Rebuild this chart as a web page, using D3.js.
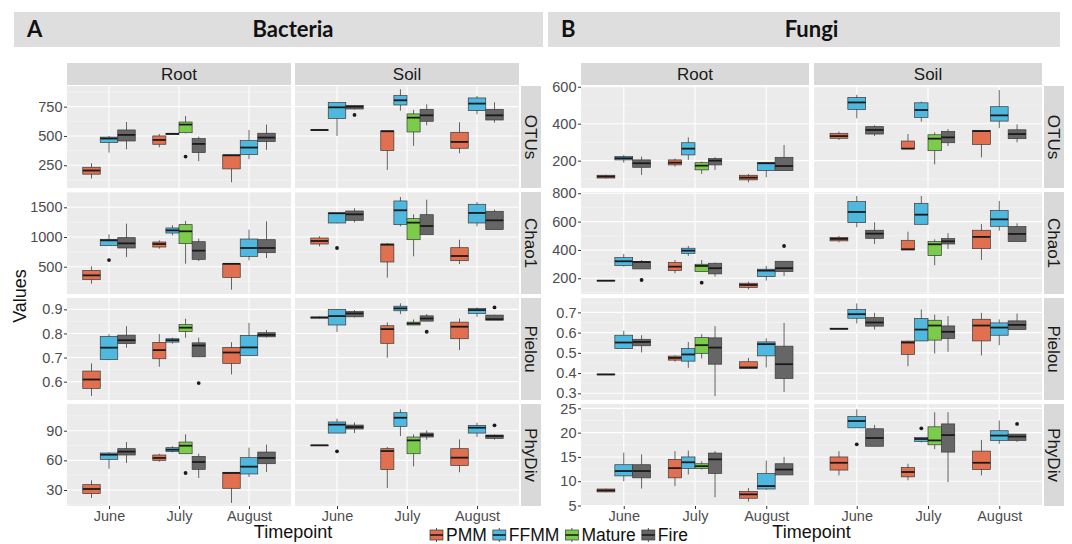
<!DOCTYPE html>
<html lang="en">
<head>
<meta charset="utf-8">
<title>Bacteria and Fungi diversity boxplots</title>
<script src="https://d3js.org/d3.v7.min.js"></script>
<style>
  body { margin: 0; background: #fff; }
  svg { display: block; font-family: "Liberation Sans", Arial, sans-serif; }
</style>
</head>
<body>
<svg id="chart" width="1072" height="544"></svg>
<script>
var timepoints = ["June", "July", "August"];
var groups = ["PMM", "FFMM", "Mature", "Fire"];
var compartments = ["Root", "Soil"];
var metrics = ["OTUs", "Chao1", "Pielou", "PhyDiv"];
var groupColors = ["#e0704f", "#4fb8df", "#7ccc4c", "#666666"];

// [compartment, timepoint, group, lower whisker, q1, median, q3, upper whisker, outliers]
var bacOTUs = [
  ["Root","June","PMM",137,174,205,233,267],
  ["Root","June","FFMM",358,443,478,490,500],
  ["Root","June","Fire",386,457,509,551,619],
  ["Root","July","PMM",403,429,466,500,517],
  ["Root","July","FFMM",510,514,518,522,526],
  ["Root","July","Mature",522,528,597,619,670,[324]],
  ["Root","July","Fire",284,358,432,477,494],
  ["Root","August","PMM",105,219,335,338,340],
  ["Root","August","FFMM",301,341,401,460,551],
  ["Root","August","Fire",381,452,486,523,597],
  ["Soil","June","PMM",549,550,551,552,553],
  ["Soil","June","FFMM",500,648,744,784,784],
  ["Soil","June","Fire",725,730,750,759,762,[679]],
  ["Soil","July","PMM",210,375,540,543,545],
  ["Soil","July","FFMM",716,764,804,844,898],
  ["Soil","July","Mature",415,534,656,688,722],
  ["Soil","July","Fire",591,625,676,727,770],
  ["Soil","August","PMM",352,395,449,531,617],
  ["Soil","August","FFMM",685,716,776,824,841],
  ["Soil","August","Fire",614,636,676,727,787]
];
var bacChao1 = [
  ["Root","June","PMM",213,281,354,438,505],
  ["Root","June","FFMM",850,854,944,961,1045,[612]],
  ["Root","June","Fire",663,815,893,989,1225],
  ["Root","July","PMM",803,831,882,916,944],
  ["Root","July","FFMM",1028,1067,1112,1152,1197],
  ["Root","July","Mature",550,888,1096,1208,1270],
  ["Root","July","Fire",595,623,770,921,972],
  ["Root","August","PMM",112,320,548,550,552],
  ["Root","August","FFMM",607,674,815,966,1124],
  ["Root","August","Fire",646,736,815,955,1264],
  ["Soil","June","PMM",843,882,933,983,1011],
  ["Soil","June","FFMM",1230,1236,1400,1405,1410,[815]],
  ["Soil","June","Fire",1247,1281,1382,1438,1483],
  ["Soil","July","PMM",314,579,871,882,899],
  ["Soil","July","FFMM",1180,1208,1450,1607,1674],
  ["Soil","July","Mature",674,955,1242,1309,1382],
  ["Soil","July","Fire",1039,1039,1185,1376,1629],
  ["Soil","August","PMM",545,601,680,820,955],
  ["Soil","August","FFMM",1180,1236,1405,1551,1590],
  ["Soil","August","Fire",1124,1124,1281,1433,1461]
];
var bacPielou = [
  ["Root","June","PMM",0.541,0.572,0.609,0.644,0.676],
  ["Root","June","FFMM",0.689,0.692,0.741,0.788,0.797],
  ["Root","June","Fire",0.741,0.758,0.772,0.793,0.830],
  ["Root","July","PMM",0.662,0.695,0.731,0.763,0.797],
  ["Root","July","FFMM",0.758,0.764,0.772,0.778,0.782],
  ["Root","July","Mature",0.782,0.808,0.824,0.837,0.861],
  ["Root","July","Fire",0.703,0.703,0.750,0.761,0.782,[0.594]],
  ["Root","August","PMM",0.630,0.676,0.721,0.742,0.764],
  ["Root","August","FFMM",0.709,0.709,0.742,0.792,0.844],
  ["Root","August","Fire",0.783,0.786,0.794,0.803,0.814],
  ["Soil","June","PMM",0.862,0.864,0.866,0.868,0.870],
  ["Soil","June","FFMM",0.806,0.835,0.872,0.900,0.900],
  ["Soil","June","Fire",0.866,0.869,0.883,0.891,0.897],
  ["Soil","July","PMM",0.699,0.759,0.818,0.832,0.846],
  ["Soil","July","FFMM",0.880,0.894,0.904,0.913,0.925],
  ["Soil","July","Mature",0.835,0.835,0.841,0.847,0.858],
  ["Soil","July","Fire",0.851,0.851,0.862,0.873,0.880,[0.807]],
  ["Soil","August","PMM",0.731,0.778,0.828,0.847,0.862],
  ["Soil","August","FFMM",0.869,0.883,0.897,0.904,0.908],
  ["Soil","August","Fire",0.855,0.855,0.859,0.876,0.878,[0.908]]
];
var bacPhyDiv = [
  ["Root","June","PMM",21.9,26.3,31.0,35.4,39.8],
  ["Root","June","FFMM",51.6,61.0,65.7,67.4,68.4],
  ["Root","June","Fire",57.3,65.4,68.8,71.8,78.5],
  ["Root","July","PMM",58.7,60.0,62.4,65.4,66.7],
  ["Root","July","FFMM",68.1,68.8,70.8,72.8,74.2],
  ["Root","July","Mature",66.7,66.7,74.8,78.5,86.3,[47.2]],
  ["Root","July","Fire",42.1,50.9,58.3,64.0,66.7],
  ["Root","August","PMM",16.9,31.7,47.2,47.9,48.2],
  ["Root","August","FFMM",43.2,46.2,53.6,62.7,72.8],
  ["Root","August","Fire",48.2,56.6,62.4,68.4,75.8],
  ["Soil","June","PMM",75.0,75.1,75.2,75.3,75.4],
  ["Soil","June","FFMM",87.6,87.6,96.1,98.8,102.1,[69.1]],
  ["Soil","June","Fire",87.6,91.7,93.7,95.7,98.4],
  ["Soil","July","PMM",32.0,50.6,69.4,71.8,73.5],
  ["Soil","July","FFMM",84.6,94.4,103.1,108.2,111.6],
  ["Soil","July","Mature",53.9,66.7,80.2,83.6,86.3],
  ["Soil","July","Fire",80.9,83.6,85.6,87.6,90.3],
  ["Soil","August","PMM",47.9,54.9,62.7,71.8,81.2],
  ["Soil","August","FFMM",83.6,87.6,93.0,95.4,98.1],
  ["Soil","August","Fire",80.9,82.2,84.6,85.6,86.0,[95.4]]
];
var funOTUs = [
  ["Root","June","PMM",103,106,114,121,124],
  ["Root","June","FFMM",189,204,213,222,231],
  ["Root","June","Fire",123,164,186,204,222],
  ["Root","July","PMM",168,177,189,204,211],
  ["Root","July","FFMM",204,231,265,297,326],
  ["Root","July","Mature",128,150,173,189,195],
  ["Root","July","Fire",150,177,200,211,218],
  ["Root","August","PMM",83,96,108,121,128],
  ["Root","August","FFMM",110,146,186,189,190],
  ["Root","August","Fire",146,146,171,218,285],
  ["Soil","June","PMM",312,321,333,348,357],
  ["Soil","June","FFMM",429,477,515,542,556],
  ["Soil","June","Fire",333,344,366,384,391],
  ["Soil","July","PMM",265,265,265,306,344],
  ["Soil","July","FFMM",411,434,474,513,520],
  ["Soil","July","Mature",180,254,319,340,353],
  ["Soil","July","Fire",279,297,326,358,371],
  ["Soil","August","PMM",218,288,360,364,366],
  ["Soil","August","FFMM",376,414,445,492,582],
  ["Soil","August","Fire",299,319,344,367,396]
];
var funChao1 = [
  ["Root","June","PMM",181,182,183,185,186],
  ["Root","June","FFMM",282,289,320,346,372],
  ["Root","June","Fire",266,266,315,318,329,[188]],
  ["Root","July","PMM",235,254,282,311,329],
  ["Root","July","FFMM",358,376,395,412,428],
  ["Root","July","Mature",247,247,287,299,329,[169]],
  ["Root","July","Fire",212,231,271,306,311],
  ["Root","August","PMM",122,136,153,165,176],
  ["Root","August","FFMM",184,212,254,264,287],
  ["Root","August","Fire",216,247,271,320,320,[428]],
  ["Soil","June","PMM",454,464,478,489,499],
  ["Soil","June","FFMM",560,593,668,741,781],
  ["Soil","June","Fire",442,482,515,539,595],
  ["Soil","July","PMM",400,400,405,468,529],
  ["Soil","July","FFMM",581,581,649,729,781],
  ["Soil","July","Mature",292,360,440,459,475],
  ["Soil","July","Fire",407,442,461,480,518],
  ["Soil","August","PMM",329,409,492,539,584],
  ["Soil","August","FFMM",536,567,616,678,746],
  ["Soil","August","Fire",459,459,513,565,588]
];
var funPielou = [
  ["Root","June","PMM",0.391,0.392,0.393,0.395,0.396],
  ["Root","June","FFMM",0.521,0.521,0.551,0.587,0.609],
  ["Root","June","Fire",0.502,0.535,0.554,0.567,0.587],
  ["Root","July","PMM",0.456,0.464,0.475,0.484,0.488],
  ["Root","July","FFMM",0.426,0.459,0.492,0.521,0.554],
  ["Root","July","Mature",0.472,0.497,0.538,0.576,0.592],
  ["Root","July","Fire",0.286,0.444,0.526,0.574,0.632],
  ["Root","August","PMM",0.423,0.423,0.428,0.456,0.475],
  ["Root","August","FFMM",0.428,0.485,0.543,0.554,0.572],
  ["Root","August","Fire",0.307,0.373,0.444,0.533,0.648],
  ["Soil","June","PMM",0.618,0.618,0.619,0.620,0.620],
  ["Soil","June","FFMM",0.645,0.671,0.691,0.714,0.744],
  ["Soil","June","Fire",0.615,0.632,0.650,0.674,0.698],
  ["Soil","July","PMM",0.434,0.492,0.551,0.558,0.560],
  ["Soil","July","FFMM",0.559,0.559,0.615,0.670,0.714],
  ["Soil","July","Mature",0.497,0.563,0.635,0.661,0.689],
  ["Soil","July","Fire",0.505,0.571,0.604,0.633,0.681],
  ["Soil","August","PMM",0.487,0.559,0.635,0.666,0.698],
  ["Soil","August","FFMM",0.538,0.587,0.625,0.648,0.665],
  ["Soil","August","Fire",0.615,0.615,0.638,0.658,0.694]
];
var funPhyDiv = [
  ["Root","June","PMM",7.7,7.8,8.1,8.4,8.5],
  ["Root","June","FFMM",10.0,11.1,12.1,13.4,15.9],
  ["Root","June","Fire",8.5,10.7,12.1,13.4,15.5],
  ["Root","July","PMM",9.0,10.7,12.7,14.5,16.2],
  ["Root","July","FFMM",11.4,12.6,13.9,15.0,16.3],
  ["Root","July","Mature",12.4,12.6,13.1,13.6,14.1],
  ["Root","July","Fire",6.7,11.6,14.5,15.8,16.2],
  ["Root","August","PMM",5.8,6.5,7.3,7.9,8.6],
  ["Root","August","FFMM",8.2,8.4,9.0,11.6,14.25],
  ["Root","August","Fire",11.3,11.3,12.4,13.6,15.0],
  ["Soil","June","PMM",11.2,12.3,13.8,15.0,16.2],
  ["Soil","June","FFMM",21.0,21.0,22.4,23.3,24.8,[17.6]],
  ["Soil","June","Fire",17.2,17.2,18.9,20.8,21.6],
  ["Soil","July","PMM",10.2,10.9,11.9,12.8,13.6],
  ["Soil","July","FFMM",18.0,18.2,18.7,19.0,19.0,[20.9]],
  ["Soil","July","Mature",16.6,17.5,18.4,21.2,24.2],
  ["Soil","July","Fire",9.8,16.0,19.5,21.8,24.2],
  ["Soil","August","PMM",11.2,12.4,13.8,16.2,18.5],
  ["Soil","August","FFMM",17.7,18.4,19.4,20.4,22.5],
  ["Soil","August","Fire",18.1,18.4,19.2,19.7,19.7,[21.8]]
];

// y axis limits and breaks per metric row
var bacLimits = [[56, 926], [40, 1758], [0.524, 0.947], [13.8, 117]];
var funLimits = [[52, 604], [89, 809], [0.267, 0.771], [4.9, 25.9]];
var bacTicks = [[250, 500, 750], [500, 1000, 1500], [0.6, 0.7, 0.8, 0.9], [30, 60, 90]];
var funTicks = [[200, 400, 600], [200, 400, 600, 800], [0.3, 0.4, 0.5, 0.6, 0.7], [5, 10, 15, 20, 25]];

var svg = d3.select("#chart");
var color = d3.scaleOrdinal().domain(groups).range(groupColors);
var sans = "'Liberation Sans', Arial, sans-serif";

var rowTop = 86, rowH = 102, rowGap = 4;
var stripTop = 63, stripH = 22;

var kingdoms = [
  { title: "Bacteria", letter: "A", data: [bacOTUs, bacChao1, bacPielou, bacPhyDiv],
    limits: bacLimits, ticks: bacTicks, left: 67, panelW: 224, gap: 4,
    header: [14, 529] },
  { title: "Fungi", letter: "B", data: [funOTUs, funChao1, funPielou, funPhyDiv],
    limits: funLimits, ticks: funTicks, left: 581, panelW: 228, gap: 5,
    header: [548, 512] }
];

kingdoms.forEach(function (k) {
  var g = svg.append("g");
  var plotRight = k.left + 2 * k.panelW + k.gap;
  var midX = (k.left + plotRight) / 2;

  // header bar
  g.append("rect").attr("x", k.header[0]).attr("y", 12)
    .attr("width", k.header[1]).attr("height", 35).attr("fill", "#dedede");
  g.append("text").attr("x", k.header[0] + 13).attr("y", 37)
    .style("font-family", "Lato, 'Open Sans', sans-serif").style("font-weight", 700)
    .style("font-size", "22px").attr("fill", "#111").text(k.letter);
  g.append("text").attr("x", midX).attr("y", 37).attr("text-anchor", "middle")
    .style("font-family", "Lato, 'Open Sans', sans-serif").style("font-weight", 700)
    .style("font-size", "22px").attr("fill", "#111").text(k.title);

  compartments.forEach(function (comp, ci) {
    var px = k.left + ci * (k.panelW + k.gap);
    var x = d3.scalePoint().domain(timepoints).range([px, px + k.panelW]).padding(0.6);
    var step = x.step();

    // column strip
    g.append("rect").attr("x", px).attr("y", stripTop).attr("width", k.panelW)
      .attr("height", stripH).attr("fill", "#d9d9d9");
    g.append("text").attr("x", px + k.panelW / 2).attr("y", stripTop + stripH / 2)
      .attr("dy", "0.36em").attr("text-anchor", "middle").style("font-size", "17px")
      .style("font-family", sans).attr("fill", "#1a1a1a").text(comp);

    metrics.forEach(function (metric, mi) {
      var top = rowTop + mi * (rowH + rowGap);
      var y = d3.scaleLinear().domain(k.limits[mi]).range([top + rowH, top]);
      var ticks = k.ticks[mi];
      var half = (ticks[1] - ticks[0]) / 2;
      var minor = [];
      for (var v = ticks[0] - half; v <= k.limits[mi][1]; v += 2 * half) {
        if (v >= k.limits[mi][0]) minor.push(v);
      }

      var panel = g.append("g");
      panel.append("rect").attr("x", px).attr("y", top).attr("width", k.panelW)
        .attr("height", rowH).attr("fill", "#ebebeb");
      panel.selectAll(".minor").data(minor).enter().append("line")
        .attr("x1", px).attr("x2", px + k.panelW)
        .attr("y1", function (d) { return y(d); }).attr("y2", function (d) { return y(d); })
        .attr("stroke", "#f7f7f7").attr("stroke-width", 0.6);
      panel.selectAll(".major").data(ticks).enter().append("line")
        .attr("x1", px).attr("x2", px + k.panelW)
        .attr("y1", function (d) { return y(d); }).attr("y2", function (d) { return y(d); })
        .attr("stroke", "#fff").attr("stroke-width", 1.1);
      panel.selectAll(".vgrid").data(timepoints).enter().append("line")
        .attr("x1", function (d) { return x(d); }).attr("x2", function (d) { return x(d); })
        .attr("y1", top).attr("y2", top + rowH)
        .attr("stroke", "#fff").attr("stroke-width", 1.1);

      // boxes, dodged within each timepoint
      var rows = k.data[mi].filter(function (d) { return d[0] === comp; });
      rows.forEach(function (d) {
        var present = rows.filter(function (r) { return r[1] === d[1]; })
          .map(function (r) { return r[2]; });
        present.sort(function (a, b) { return groups.indexOf(a) - groups.indexOf(b); });
        var n = present.length, i = present.indexOf(d[2]);
        var bw = 0.75 * step / n;
        var cx = x(d[1]) + (i - (n - 1) / 2) * bw;
        var bg = panel.append("g");
        bg.append("line").attr("x1", cx).attr("x2", cx)
          .attr("y1", y(d[3])).attr("y2", y(d[7]))
          .attr("stroke", "#555").attr("stroke-width", 0.9);
        bg.append("rect").attr("x", cx - bw / 2).attr("width", bw)
          .attr("y", y(d[6])).attr("height", Math.max(y(d[4]) - y(d[6]), 0.5))
          .attr("fill", color(d[2])).attr("stroke", "#3a3a3a").attr("stroke-width", 0.7);
        bg.append("line").attr("x1", cx - bw / 2).attr("x2", cx + bw / 2)
          .attr("y1", y(d[5])).attr("y2", y(d[5]))
          .attr("stroke", "#1a1a1a").attr("stroke-width", 1.8);
        (d[8] || []).forEach(function (o) {
          bg.append("circle").attr("cx", cx).attr("cy", y(o)).attr("r", 1.9).attr("fill", "#1a1a1a");
        });
      });

      if (ci === 0) {
        var ya = panel.append("g").attr("transform", "translate(" + px + ",0)")
          .call(d3.axisLeft(y).tickValues(ticks).tickSize(3).tickPadding(1.5)
            .tickFormat(function (t) { return String(t); }));
        ya.select(".domain").remove();
        ya.selectAll("line").attr("stroke", "#333");
        ya.selectAll("text").attr("fill", "#4d4d4d").style("font-size", "14.5px")
          .style("font-family", sans);
      }
      if (mi === metrics.length - 1) {
        var xa = panel.append("g").attr("transform", "translate(0," + (top + rowH) + ")")
          .call(d3.axisBottom(x).tickSize(3).tickPadding(2));
        xa.select(".domain").remove();
        xa.selectAll("line").attr("stroke", "#333");
        xa.selectAll("text").attr("fill", "#4d4d4d").style("font-size", "14.5px")
          .style("font-family", sans);
      }
      if (ci === 1) {
        var sx = plotRight + 2;
        g.append("rect").attr("x", sx).attr("y", top).attr("width", 20)
          .attr("height", rowH).attr("fill", "#d9d9d9");
        g.append("text").attr("transform", "translate(" + (sx + 10) + "," + (top + rowH / 2) + ") rotate(90)")
          .attr("dy", "0.36em").attr("text-anchor", "middle").style("font-size", "17px")
          .style("font-family", sans).attr("fill", "#1a1a1a").text(metric);
      }
    });
  });

  g.append("text").attr("x", midX).attr("y", 538).attr("text-anchor", "middle")
    .style("font-size", "18px").style("font-family", sans).attr("fill", "#111").text("Timepoint");
});

svg.append("text").attr("transform", "translate(26,296) rotate(-90)")
  .attr("text-anchor", "middle").style("font-size", "18px").style("font-family", sans)
  .attr("fill", "#111").text("Values");

// legend
var legend = svg.append("g").attr("transform", "translate(429,535)");
var lx = 0;
groups.forEach(function (grp) {
  var item = legend.append("g").attr("transform", "translate(" + lx + ",0)");
  item.append("line").attr("x1", 7.5).attr("x2", 7.5).attr("y1", -7).attr("y2", 7)
    .attr("stroke", "#555").attr("stroke-width", 1);
  item.append("rect").attr("x", 1).attr("y", -5).attr("width", 13).attr("height", 10)
    .attr("fill", color(grp)).attr("stroke", "#3a3a3a").attr("stroke-width", 0.7);
  item.append("line").attr("x1", 1).attr("x2", 14).attr("y1", 0).attr("y2", 0)
    .attr("stroke", "#1a1a1a").attr("stroke-width", 1.6);
  var t = item.append("text").attr("x", 17).attr("dy", "0.36em")
    .style("font-size", "17.5px").style("font-family", sans).attr("fill", "#111").text(grp);
  lx += 17 + t.node().getComputedTextLength() + 5;
});
</script>
</body>
</html>
